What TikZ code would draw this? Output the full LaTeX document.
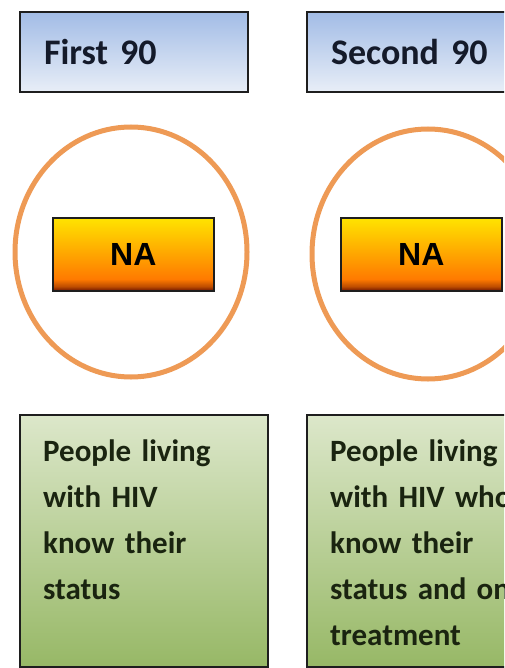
\documentclass[tikz,border=0pt]{standalone}
\usepackage{fontspec}
\setmainfont{Carlito}
\newfontfamily\nafont{Liberation Sans}
\usetikzlibrary{shapes.geometric, positioning}

\definecolor{hdtop}{HTML}{A2BCE6}
\definecolor{hdbot}{HTML}{E8EEF7}
\definecolor{hdtext}{HTML}{141A2A}
\definecolor{ringcol}{HTML}{EE9A55}
\definecolor{nayellow}{HTML}{FFE400}
\definecolor{naorange}{HTML}{FF7A00}
\definecolor{nadark}{HTML}{6E1400}
\definecolor{grtop}{HTML}{DCE7CA}
\definecolor{grbot}{HTML}{97B866}
\definecolor{grtext}{HTML}{1A2410}
\definecolor{edgecol}{HTML}{1E1E1E}

\pgfdeclareverticalshading{nafade}{100bp}{color(0bp)=(nadark); color(25bp)=(nadark);
  color(28bp)=(nadark!45!naorange); color(33bp)=(naorange); color(75bp)=(nayellow); color(100bp)=(nayellow)}

\begin{document}
\begin{tikzpicture}[x=1pt, y=-1pt,
    headbox/.style={draw=edgecol, line width=2pt, top color=hdtop, bottom color=hdbot,
      anchor=north west, minimum width=228pt, minimum height=80pt, inner xsep=24pt,
      text width=180pt, align=left, text=hdtext, font=\fontsize{36}{40}\selectfont\bfseries},
    ring/.style={draw=ringcol, line width=5pt, ellipse, minimum width=232pt, minimum height=250pt},
    nabox/.style={draw=edgecol, line width=1.6pt, shading=nafade, anchor=north west,
      minimum width=161pt, minimum height=73pt, text=black, font=\nafont\fontsize{32}{36}\selectfont\bfseries},
    goalbox/.style={draw=edgecol, line width=2pt, top color=grtop, bottom color=grbot,
      anchor=north west, minimum width=248pt, minimum height=252pt},
    goaltext/.style={anchor=north west, inner sep=0pt, text width=230pt, align=left, text=grtext,
      font=\fontsize{31}{46}\selectfont\bfseries}]
  \useasboundingbox (0,0) rectangle (504,668);
  \clip (0,0) rectangle (504,668);
  \fill[white] (0,0) rectangle (504,668);

  % first column
  \node[headbox] (head1) at (19,11) {First 90};
  \node[ring] (ring1) at (131,252) {};
  \node[nabox] (na1) at (52,217) {NA};
  \node[goalbox] (goal1) at (19,414) {};
  \node[goaltext] (txt1) at (43,440) {People living\\with HIV\\know their\\status};

  % second column
  \node[headbox] (head2) at (306,11) {Second 90};
  \node[ring] (ring2) at (428,254) {};
  \node[nabox] (na2) at (340,217) {NA};
  \node[goalbox] (goal2) at (306,414) {};
  \node[goaltext] (txt2) at (330,440) {People living\\with HIV who\\know their\\status and on\\treatment};
\end{tikzpicture}
\end{document}
